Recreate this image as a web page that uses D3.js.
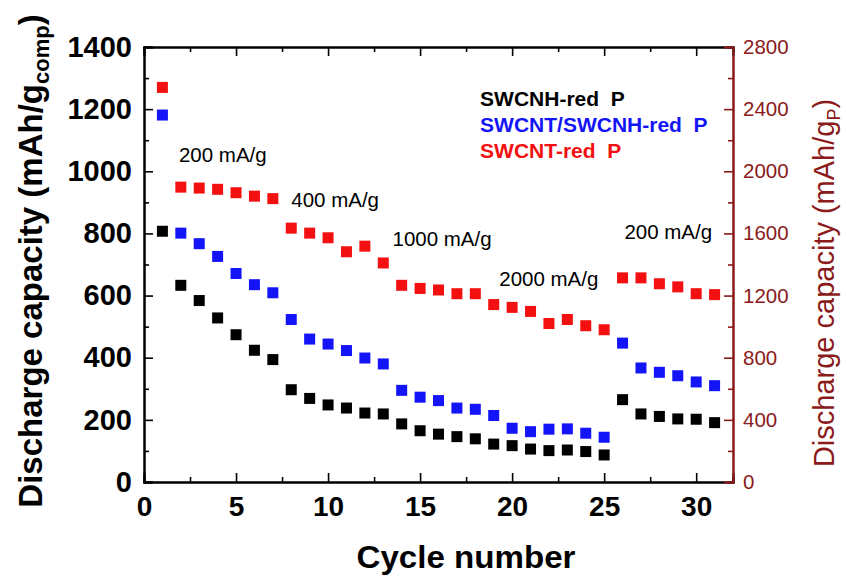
<!DOCTYPE html>
<html>
<head>
  <meta charset="utf-8">
  <title>Discharge capacity vs cycle number</title>
  <style>
    body { margin: 0; background: #fff; }
    text { font-family: 'Liberation Sans', Arial, sans-serif; }
    .legend text { white-space: pre; }
  </style>
</head>
<body>
  <div id="plot"></div>
  <script src="https://cdn.jsdelivr.net/npm/d3@7/dist/d3.min.js"></script>
  <script>

    function translate(x, y) {
      return 'translate(' + x + ', ' + y + ')';
    }

    let cycles = [1, 2, 3, 4, 5, 6, 7, 8, 9, 10, 11, 12, 13, 14, 15, 16,
      17, 18, 19, 20, 21, 22, 23, 24, 25, 26, 27, 28, 29, 30, 31];

    let swcnh = [807, 633, 584, 528, 474, 424, 394, 297, 269, 248, 238, 222,
      219, 187, 165, 154, 146, 139, 122, 117, 106, 101, 103, 98, 87,
      265, 219, 211, 203, 202, 191];

    let mixed = [1181, 801, 767, 726, 671, 635, 609, 523, 460, 444, 423, 399,
      380, 295, 273, 262, 238, 234, 214, 173, 162, 170, 171, 157, 144,
      447, 367, 353, 342, 322, 310];

    let swcnt = [1270, 949, 946, 942, 931, 920, 912, 817, 801, 786, 741, 759,
      705, 633, 623, 618, 606, 606, 571, 562, 549, 510, 523, 503, 490,
      657, 657, 638, 628, 606, 603];

    let seriesNames = ['SWCNH-red  P', 'SWCNT/SWCNH-red  P', 'SWCNT-red  P'];
    let seriesColors = ['#000000', '#1414f8', '#f21010'];

    // current density labels: [text, cycle, capacity]
    let rateLabels = [
      ['200 mA/g', 1.9, 1029],
      ['400 mA/g', 8.0, 885],
      ['1000 mA/g', 13.5, 759],
      ['2000 mA/g', 19.3, 632],
      ['200 mA/g', 26.1, 781]
    ];

    let xTicks = [0, 5, 10, 15, 20, 25, 30];
    let yTicks = [0, 200, 400, 600, 800, 1000, 1200, 1400];
    let y2Ticks = [0, 400, 800, 1200, 1600, 2000, 2400, 2800];

    let svgWidth = 846;
    let svgHeight = 577;
    let margin = {top: 47, right: 113, bottom: 95, left: 144};
    let width = svgWidth - margin.left - margin.right;
    let height = svgHeight - margin.top - margin.bottom;
    let darkRed = '#8b1a1a';
    let fmt = d3.format('d');

    let svg = d3.select('#plot')
      .append('svg')
        .attr('width', svgWidth)
        .attr('height', svgHeight)
      .append('g')
        .attr('transform', translate(margin.left, margin.top));

    let x = d3.scaleLinear().domain([0, 32]).range([0, width]);
    let y = d3.scaleLinear().domain([0, 1400]).range([height, 0]);
    let y2 = d3.scaleLinear().domain([0, 2800]).range([height, 0]);

    function styleAxis(g, color) {
      g.select('.domain').attr('stroke', color).attr('stroke-width', 2);
      g.selectAll('.tick line').attr('stroke', color).attr('stroke-width', 1.6);
    }

    // minor ticks
    svg.append('g')
      .attr('transform', translate(0, height))
      .call(d3.axisBottom(x).tickValues(d3.range(2.5, 32, 5)).tickSize(-5).tickFormat(''))
      .call(g => styleAxis(g, '#000'));
    svg.append('g')
      .call(d3.axisTop(x).tickValues(d3.range(2.5, 32, 5)).tickSize(-5).tickFormat(''))
      .call(g => styleAxis(g, '#000'));
    svg.append('g')
      .call(d3.axisLeft(y).tickValues(d3.range(100, 1400, 200)).tickSize(-5).tickFormat(''))
      .call(g => styleAxis(g, '#000'));
    svg.append('g')
      .attr('transform', translate(width, 0))
      .call(d3.axisRight(y2).tickValues(d3.range(200, 2800, 400)).tickSize(-5).tickFormat(''))
      .call(g => styleAxis(g, darkRed));

    // major ticks
    svg.append('g')
      .call(d3.axisTop(x).tickValues(xTicks).tickSize(-9).tickFormat(''))
      .call(g => styleAxis(g, '#000'));

    let xAxis = svg.append('g')
      .attr('transform', translate(0, height))
      .call(d3.axisBottom(x).tickValues(xTicks).tickSize(-9).tickPadding(14).tickFormat(fmt))
      .call(g => styleAxis(g, '#000'));
    xAxis.selectAll('text')
      .attr('fill', '#000')
      .style('font-size', '28px')
      .style('font-weight', 'bold');

    let yAxis = svg.append('g')
      .call(d3.axisLeft(y).tickValues(yTicks).tickSize(-9).tickPadding(12).tickFormat(fmt))
      .call(g => styleAxis(g, '#000'));
    yAxis.selectAll('text')
      .attr('fill', '#000')
      .style('font-size', '29px')
      .style('font-weight', 'bold');

    let y2Axis = svg.append('g')
      .attr('transform', translate(width, 0))
      .call(d3.axisRight(y2).tickValues(y2Ticks).tickSize(-9).tickPadding(10).tickFormat(fmt))
      .call(g => styleAxis(g, darkRed));
    y2Axis.selectAll('text')
      .attr('fill', darkRed)
      .style('font-size', '20.5px');

    // axis titles
    svg.append('text')
      .attr('x', 466 - margin.left)
      .attr('y', 568 - margin.top)
      .style('text-anchor', 'middle')
      .style('font-size', '31px')
      .style('font-weight', 'bold')
      .attr('textLength', 219)
      .attr('lengthAdjust', 'spacingAndGlyphs')
      .text('Cycle number');

    let yTitle = svg.append('text')
      .attr('transform', translate(42 - margin.left, 261 - margin.top) + ' rotate(-90)')
      .style('text-anchor', 'middle')
      .style('font-size', '33px')
      .style('font-weight', 'bold');
    yTitle.append('tspan').text('Discharge capacity (mAh/g');
    yTitle.append('tspan').attr('dy', 7).style('font-size', '22px').text('comp');
    yTitle.append('tspan').attr('dy', -7).text(')');

    let y2Title = svg.append('text')
      .attr('transform', translate(834 - margin.left, 283 - margin.top) + ' rotate(-90)')
      .style('text-anchor', 'middle')
      .style('font-size', '29px')
      .attr('fill', darkRed);
    y2Title.append('tspan').text('Discharge capacity (mAh/g');
    y2Title.append('tspan').attr('dy', 6).style('font-size', '18px').text('P');
    y2Title.append('tspan').attr('dy', -6).text(')');

    // series
    let series = [swcnh, mixed, swcnt];
    let size = 11;
    series.forEach(function(values, i) {
      svg.append('g')
        .selectAll('rect')
        .data(cycles)
        .enter()
        .append('rect')
          .attr('x', (d) => x(d) - size / 2)
          .attr('y', (d, j) => y(values[j]) - size / 2)
          .attr('width', size)
          .attr('height', size)
          .style('fill', seriesColors[i]);
    });

    // rate labels
    svg.selectAll('.rate')
      .data(rateLabels)
      .enter()
      .append('text')
        .attr('class', 'rate')
        .attr('x', d => x(d[1]))
        .attr('y', d => y(d[2]))
        .style('font-size', '20.5px')
        .text(d => d[0]);

    // legend
    let legendY = [1210, 1126, 1042];
    svg.append('g')
      .attr('class', 'legend')
      .selectAll('text')
      .data(seriesNames)
      .enter()
      .append('text')
        .attr('x', x(18.26))
        .attr('y', (d, i) => y(legendY[i]))
        .style('font-size', '21px')
        .style('font-weight', 'bold')
        .style('fill', (d, i) => seriesColors[i])
        .text(d => d);

  </script>
</body>
</html>
